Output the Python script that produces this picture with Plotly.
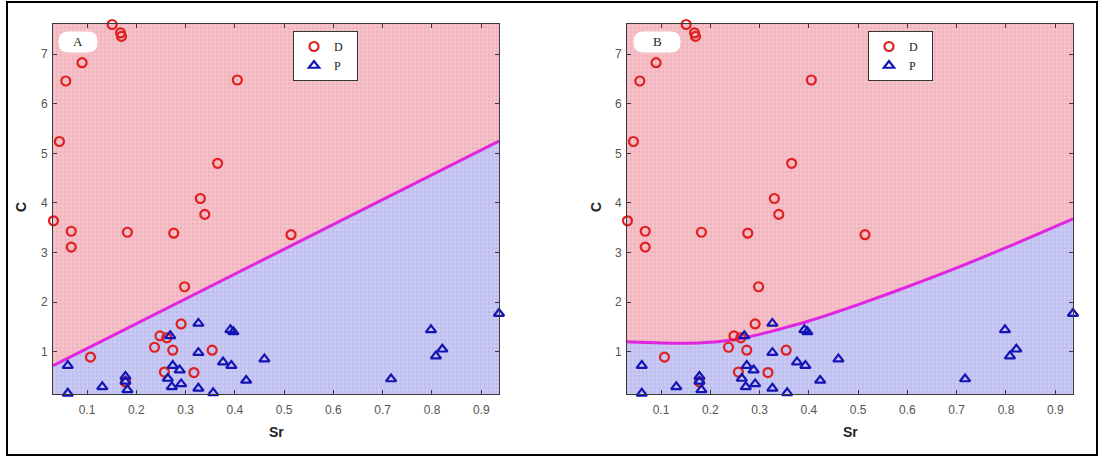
import plotly.graph_objects as go

W, H = 1099, 457

# ---- data ----
d_sr = [0.151, 0.168, 0.170, 0.090, 0.057, 0.405, 0.044, 0.365, 0.330, 0.032, 0.068, 0.068,
        0.182, 0.276, 0.339, 0.298, 0.291, 0.248, 0.262, 0.237, 0.274, 0.354, 0.107, 0.257,
        0.317, 0.178, 0.514]
d_c = [7.60, 7.43, 7.36, 6.83, 6.46, 6.48, 5.24, 4.80, 4.09, 3.64, 3.43, 3.11,
       3.41, 3.39, 3.77, 2.31, 1.56, 1.32, 1.28, 1.09, 1.03, 1.03, 0.89, 0.59,
       0.58, 0.39, 3.36]
p_sr = [0.061, 0.061, 0.131, 0.178, 0.178, 0.182, 0.269, 0.264, 0.274, 0.288, 0.272, 0.291,
        0.326, 0.326, 0.326, 0.356, 0.391, 0.397, 0.376, 0.393, 0.423, 0.460, 0.717, 0.798,
        0.821, 0.808, 0.936]
p_c = [0.72, 0.16, 0.29, 0.50, 0.40, 0.23, 1.32, 0.46, 0.72, 0.63, 0.29, 0.35,
       1.57, 0.98, 0.26, 0.17, 1.44, 1.40, 0.79, 0.72, 0.42, 0.85, 0.45, 1.44,
       1.05, 0.91, 1.77]

# decision boundaries
bA_sr = [0.031, 0.936]
bA_c = [0.72, 5.25]
bB_sr = [0.031, 0.10, 0.15, 0.20, 0.25, 0.30, 0.35, 0.40, 0.45, 0.50, 0.60, 0.70, 0.80, 0.936]
bB_c = [1.20, 1.175, 1.17, 1.19, 1.245, 1.35, 1.48, 1.62, 1.78, 1.95, 2.31, 2.69, 3.10, 3.68]

x_ticks = [0.1, 0.2, 0.3, 0.4, 0.5, 0.6, 0.7, 0.8, 0.9]
x_ticklabels = ["0.1", "0.2", "0.3", "0.4", "0.5", "0.6", "0.7", "0.8", "0.9"]
y_ticks = [1, 2, 3, 4, 5, 6, 7]
y_ticklabels = ["1", "2", "3", "4", "5", "6", "7"]
panel_labels = ["A", "B"]
class_names = ["D", "P"]

XR = [0.031, 0.936]
YR = [0.147, 7.61]

RED = "#e02020"
BLUE = "#1414b4"
MAG = "#e024e0"

fig = go.Figure()

def px_x(x):
    return x / W

def px_y(y):
    return 1 - y / H

panels = [
    dict(xa="x", ya="y", bsr=bA_sr, bc=bA_c, legend="legend"),
    dict(xa="x2", ya="y2", bsr=bB_sr, bc=bB_c, legend="legend2"),
]

for p in panels:
    bsr, bc = p["bsr"], p["bc"]
    # red region (above boundary)
    fig.add_trace(go.Scatter(
        x=[XR[0]] + bsr + [XR[1], XR[0]],
        y=[YR[1]] + bc + [YR[1], YR[1]],
        fill="toself", mode="none", hoverinfo="skip", showlegend=False,
        fillcolor="#f4bcc4",
        fillpattern=dict(shape="+", bgcolor="#f2b2bc", fgcolor="#fdeaec", size=4, solidity=0.35),
        xaxis=p["xa"], yaxis=p["ya"]))
    # blue region (below boundary)
    fig.add_trace(go.Scatter(
        x=[XR[0]] + bsr + [XR[1], XR[0]],
        y=[YR[0]] + bc + [YR[0], YR[0]],
        fill="toself", mode="none", hoverinfo="skip", showlegend=False,
        fillcolor="#c8c8f2",
        fillpattern=dict(shape="+", bgcolor="#bcbcf0", fgcolor="#ececfc", size=4, solidity=0.35),
        xaxis=p["xa"], yaxis=p["ya"]))
    # boundary
    fig.add_trace(go.Scatter(
        x=bsr, y=bc, mode="lines", line=dict(color=MAG, width=3, shape="spline", smoothing=1.0),
        hoverinfo="skip", showlegend=False, xaxis=p["xa"], yaxis=p["ya"]))
    # points
    fig.add_trace(go.Scatter(
        x=d_sr, y=d_c, mode="markers", name=class_names[0] + "\u00a0\u00a0\u00a0", legend=p["legend"],
        marker=dict(symbol="circle-open", size=9, color=RED, line=dict(width=2.2, color=RED)),
        cliponaxis=False, xaxis=p["xa"], yaxis=p["ya"]))
    fig.add_trace(go.Scatter(
        x=p_sr, y=p_c, mode="markers", name=class_names[1] + "\u00a0\u00a0\u00a0", legend=p["legend"],
        marker=dict(symbol="triangle-up-open", size=9, color=BLUE, line=dict(width=2.2, color=BLUE)),
        cliponaxis=False, xaxis=p["xa"], yaxis=p["ya"]))

axis_common = dict(
    showgrid=False, zeroline=False, showline=True, mirror="ticks", linecolor="#3a3a3a",
    linewidth=1, ticks="inside", ticklen=4, tickcolor="#3a3a3a",
    tickfont=dict(family="Liberation Sans, Arial", size=12, color="#555555"),
)

fig.update_layout(
    width=W, height=H, margin=dict(l=0, r=0, t=0, b=0),
    paper_bgcolor="white", plot_bgcolor="white",
    xaxis=dict(domain=[px_x(53), px_x(499)], range=XR, tickvals=x_ticks, ticktext=x_ticklabels,
               anchor="y", ticklabelstandoff=5, **axis_common),
    yaxis=dict(domain=[px_y(394), px_y(24)], range=YR, tickvals=y_ticks, ticktext=y_ticklabels,
               anchor="x", ticklabelstandoff=2, **axis_common),
    xaxis2=dict(domain=[px_x(627), px_x(1073)], range=XR, tickvals=x_ticks, ticktext=x_ticklabels,
                anchor="y2", ticklabelstandoff=5, **axis_common),
    yaxis2=dict(domain=[px_y(394), px_y(24)], range=YR, tickvals=y_ticks, ticktext=y_ticklabels,
                anchor="x2", ticklabelstandoff=2, **axis_common),
    legend=dict(x=px_x(293), y=px_y(31), xanchor="left", yanchor="top",
                bgcolor="white", bordercolor="#333333", borderwidth=1,
                font=dict(family="Liberation Serif, Times New Roman", size=12, color="#222222"),
                tracegroupgap=0),
    legend2=dict(x=px_x(868), y=px_y(31), xanchor="left", yanchor="top",
                 bgcolor="white", bordercolor="#333333", borderwidth=1,
                 font=dict(family="Liberation Serif, Times New Roman", size=12, color="#222222"),
                 tracegroupgap=0),
    showlegend=True,
)

def rounded_rect(x0, y0, x1, y1, r):
    def P(x, y):
        return f"{px_x(x):.5f},{px_y(y):.5f}"
    return (f"M {P(x0 + r, y0)} L {P(x1 - r, y0)} Q {P(x1, y0)} {P(x1, y0 + r)} "
            f"L {P(x1, y1 - r)} Q {P(x1, y1)} {P(x1 - r, y1)} "
            f"L {P(x0 + r, y1)} Q {P(x0, y1)} {P(x0, y1 - r)} "
            f"L {P(x0, y0 + r)} Q {P(x0, y0)} {P(x0 + r, y0)} Z")

shapes = []
# outer frame
shapes.append(dict(type="rect", xref="paper", yref="paper",
                   x0=px_x(7), x1=px_x(1097), y0=px_y(455), y1=px_y(2),
                   line=dict(color="black", width=2), fillcolor="rgba(0,0,0,0)"))
# panel label boxes
for (x0, x1) in [(59, 97), (634, 680)]:
    shapes.append(dict(type="path", xref="paper", yref="paper",
                       path=rounded_rect(x0, 32, x1, 52, 9),
                       fillcolor="white", line=dict(color="white", width=1)))
fig.update_layout(shapes=shapes)

annotations = []
for lbl, cx in zip(panel_labels, [78, 657]):
    annotations.append(dict(text=lbl, x=px_x(cx), y=px_y(42), xref="paper", yref="paper",
                            showarrow=False, xanchor="center", yanchor="middle",
                            font=dict(family="Liberation Serif, Times New Roman", size=13, color="#222222")))
for cx in [21, 596]:
    annotations.append(dict(text="<b>C</b>", x=px_x(cx), y=px_y(207), xref="paper", yref="paper",
                            showarrow=False, textangle=-90, xanchor="center", yanchor="middle",
                            font=dict(family="Liberation Sans, Arial", size=14, color="#222222")))
for cx in [276, 850]:
    annotations.append(dict(text="<b>Sr</b>", x=px_x(cx), y=px_y(432), xref="paper", yref="paper",
                            showarrow=False, xanchor="center", yanchor="middle",
                            font=dict(family="Liberation Sans, Arial", size=14, color="#222222")))
fig.update_layout(annotations=annotations)

fig.write_html("out.html")
